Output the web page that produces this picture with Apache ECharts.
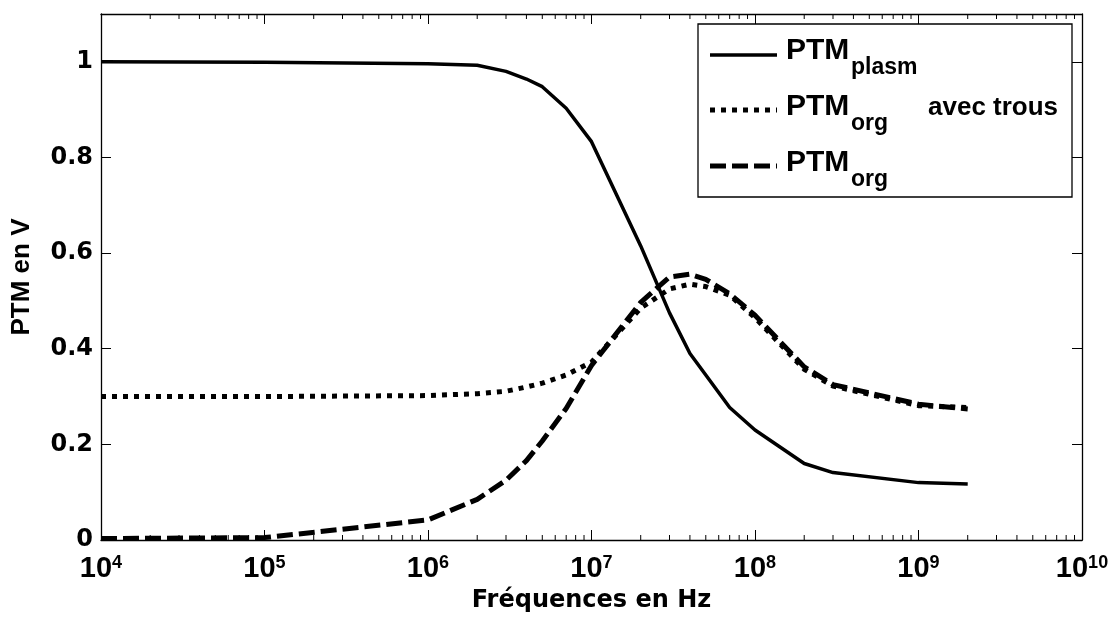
<!DOCTYPE html>
<html>
<head>
<meta charset="utf-8">
<script src="https://cdn.jsdelivr.net/npm/echarts@6/dist/echarts.min.js"></script>
<style>
  html, body { margin: 0; padding: 0; background: #fff; }
  #chart { width: 1116px; height: 619px; }
</style>
</head>
<body>
<div id="chart"></div>
<script>
// Fréquences (Hz)
const freqs = [1e4, 1e5, 1e6, 2e6, 3e6, 4e6, 5e6, 7e6, 1e7, 2e7, 3e7, 4e7, 5e7, 7e7, 1e8, 2e8, 3e8, 1e9, 2e9];
// PTM plasma
const ptmPlasm = [1.0, 0.999, 0.996, 0.993, 0.98, 0.964, 0.948, 0.903, 0.833, 0.615, 0.475, 0.39, 0.345, 0.277, 0.23, 0.16, 0.141, 0.12, 0.117];
// PTM organique avec trous
const ptmOrgTrous = [0.3, 0.3, 0.302, 0.306, 0.311, 0.32, 0.328, 0.345, 0.372, 0.485, 0.525, 0.535, 0.53, 0.512, 0.465, 0.357, 0.322, 0.281, 0.277];
// PTM organique
const ptmOrg = [0.003, 0.005, 0.042, 0.085, 0.125, 0.166, 0.207, 0.275, 0.365, 0.497, 0.55, 0.556, 0.545, 0.515, 0.47, 0.362, 0.325, 0.284, 0.274];

// Axis ticks
const yTicks = [0, 0.2, 0.4, 0.6, 0.8, 1];
const decades = [1e4, 1e5, 1e6, 1e7, 1e8, 1e9];
const minorFactors = [2, 3, 4, 5, 6, 7, 8, 9];

const X_MIN = 1e4, X_MAX = 1e10, Y_MIN = 0, Y_MAX = 1.1;

const pairs = (vals) => freqs.map((f, i) => [f, vals[i]]);
const minorTicks = [];
decades.forEach(d => minorFactors.forEach(k => minorTicks.push([d * k, 0])));

const SANS = 'Liberation Sans, Arial, Helvetica, sans-serif';
const WIDE = 'DejaVu Sans, Verdana, sans-serif';

const DASH = [16, 6];
const DOT = [5, 6];

const chart = echarts.init(document.getElementById('chart'), null, { renderer: 'canvas' });

const logAxisCommon = {
  type: 'log', logBase: 10, min: X_MIN, max: X_MAX, splitNumber: 6,
  axisLine: { show: true, onZero: false, lineStyle: { color: '#000', width: 1.3 } },
  axisTick: { show: true, inside: true, length: 10, lineStyle: { color: '#000', width: 1 } },
  splitLine: { show: false }, minorTick: { show: false }
};
const valAxisCommon = {
  type: 'value', min: Y_MIN, max: Y_MAX, interval: 0.2,
  axisLine: { show: true, onZero: false, lineStyle: { color: '#000', width: 1.3 } },
  axisTick: { show: true, inside: true, length: 10, lineStyle: { color: '#000', width: 1 } },
  splitLine: { show: false }
};

const legendX = 698, legendY = 24, legendW = 374, legendH = 173;
const sampleX1 = 710, sampleX2 = 777, textX = 786;
const rows = [
  { y: 55, dash: null, width: 3.5, main: 'PTM', sub: 'plasm', extra: '' },
  { y: 110, dash: DOT, width: 5, main: 'PTM', sub: 'org', extra: 'avec trous' },
  { y: 166, dash: DASH, width: 5, main: 'PTM', sub: 'org', extra: '' }
];
const capCenters = [51, 107, 163];

const legendGraphics = [{
  type: 'rect', z: 100,
  shape: { x: legendX, y: legendY, width: legendW, height: legendH },
  style: { fill: '#fff', stroke: '#000', lineWidth: 1.3 }
}];
rows.forEach((r, i) => {
  legendGraphics.push({
    type: 'line', z: 101,
    shape: { x1: sampleX1, y1: r.y, x2: sampleX2, y2: r.y },
    style: { stroke: '#000', lineWidth: r.width, lineDash: r.dash, lineCap: 'butt' }
  });
  legendGraphics.push({
    type: 'text', z: 101, x: textX, y: capCenters[i],
    style: { text: r.main, font: 'bold 30px ' + SANS, fill: '#000', verticalAlign: 'middle', align: 'left' }
  });
  legendGraphics.push({
    type: 'text', z: 101, x: textX + 65, y: capCenters[i] + 17,
    style: { text: r.sub, font: 'bold 23px ' + SANS, fill: '#000', verticalAlign: 'middle', align: 'left' }
  });
  if (r.extra) {
    legendGraphics.push({
      type: 'text', z: 101, x: 928, y: capCenters[i] + 1,
      style: { text: r.extra, font: 'bold 26px ' + SANS, fill: '#000', verticalAlign: 'middle', align: 'left' }
    });
  }
});

chart.setOption({
  animation: false,
  backgroundColor: '#fff',
  textStyle: { color: '#000' },
  grid: { left: 101, right: 34, top: 14, bottom: 79, containLabel: false, outerBoundsMode: 'none' },
  xAxis: [
    Object.assign({}, logAxisCommon, {
      position: 'bottom',
      name: 'Fréquences en Hz', nameLocation: 'middle', nameGap: 40,
      nameTextStyle: { fontFamily: WIDE, fontWeight: 'bold', fontSize: 24, color: '#000' },
      axisLabel: {
        show: true, margin: 14, color: '#000',
        formatter: (v) => '{b|10}{e|' + Math.round(Math.log10(v)) + '}',
        rich: {
          b: { fontFamily: SANS, fontWeight: 'bold', fontSize: 29, color: '#000', lineHeight: 30 },
          e: { fontFamily: SANS, fontWeight: 'bold', fontSize: 18, color: '#000', verticalAlign: 'top', lineHeight: 18 }
        }
      }
    }),
    Object.assign({}, logAxisCommon, { position: 'top', axisLabel: { show: false } })
  ],
  yAxis: [
    Object.assign({}, valAxisCommon, {
      position: 'left',
      name: 'PTM en V', nameLocation: 'middle', nameGap: 66, nameRotate: 90,
      nameTextStyle: { fontFamily: SANS, fontWeight: 'bold', fontSize: 26, color: '#000' },
      axisLabel: {
        show: true, margin: 8, color: '#000', showMaxLabel: false,
        fontFamily: WIDE, fontWeight: 'bold', fontSize: 24,
        formatter: (v) => (yTicks.indexOf(Math.round(v * 10) / 10) >= 0 ? String(Math.round(v * 10) / 10) : '')
      }
    }),
    Object.assign({}, valAxisCommon, { position: 'right', axisLabel: { show: false } })
  ],
  graphic: legendGraphics,
  series: [
    {
      name: 'minorTicks', type: 'custom', xAxisIndex: 0, yAxisIndex: 0,
      silent: true, clip: false, data: minorTicks, encode: { x: 0, y: 1 },
      renderItem: (params, api) => {
        const v = api.value(0);
        const b = api.coord([v, Y_MIN]);
        const t = api.coord([v, Y_MAX]);
        return {
          type: 'group', children: [
            { type: 'line', shape: { x1: b[0], y1: b[1], x2: b[0], y2: b[1] - 5 }, style: { stroke: '#000', lineWidth: 1 } },
            { type: 'line', shape: { x1: t[0], y1: t[1], x2: t[0], y2: t[1] + 5 }, style: { stroke: '#000', lineWidth: 1 } }
          ]
        };
      }
    },
    {
      name: 'PTM org', type: 'line', data: pairs(ptmOrg), showSymbol: false, symbol: 'none',
      lineStyle: { color: '#000', width: 5, type: DASH, cap: 'butt' }, z: 3
    },
    {
      name: 'PTM org avec trous', type: 'line', data: pairs(ptmOrgTrous), showSymbol: false, symbol: 'none',
      lineStyle: { color: '#000', width: 5, type: DOT, cap: 'butt' }, z: 4
    },
    {
      name: 'PTM plasm', type: 'line', data: pairs(ptmPlasm), showSymbol: false, symbol: 'none',
      lineStyle: { color: '#000', width: 3.5, type: 'solid' }, z: 5
    }
  ]
});
</script>
</body>
</html>
